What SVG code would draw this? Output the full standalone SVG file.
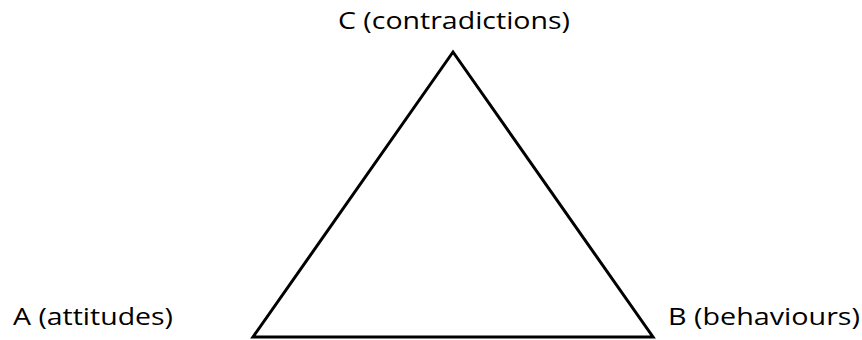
<svg xmlns="http://www.w3.org/2000/svg" width="862" height="340" viewBox="0 0 862 340">
<style>
.lbl{font-family:"Open Sans","Noto Sans",sans-serif;font-size:24px;fill:#000}
.edge{fill:none;stroke:#000;stroke-width:3;stroke-linejoin:miter}
</style>
<rect width="862" height="340" fill="#fff"/>
<g id="connectors">
<polygon class="edge" points="453,52 653,337 253,337"/>
</g>
<g id="node-C"><text class="lbl" x="338" y="29" textLength="232" lengthAdjust="spacingAndGlyphs">C (contradictions)</text></g>
<g id="node-A"><text class="lbl" x="13" y="325" textLength="160" lengthAdjust="spacingAndGlyphs">A (attitudes)</text></g>
<g id="node-B"><text class="lbl" x="668" y="325" textLength="192" lengthAdjust="spacingAndGlyphs">B (behaviours)</text></g>
</svg>
